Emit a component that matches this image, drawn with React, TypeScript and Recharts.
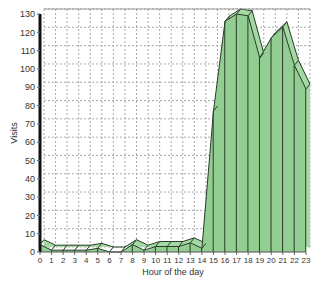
import {
  ComposedChart,
  Area,
  Bar,
  XAxis,
  YAxis,
  CartesianGrid,
  ReferenceLine,
} from "recharts";

const hours = [
  0, 1, 2, 3, 4, 5, 6, 7, 8, 9, 10, 11, 12, 13, 14, 15, 16, 17, 18, 19, 20, 21,
  22, 23,
];
const visits = [
  4, 1, 1, 1, 1, 2, 0, 0, 4, 1, 3, 3, 3, 5, 2, 77, 126, 130, 129, 106, 117,
  123, 102, 89,
];
const yTicks = [0, 10, 20, 30, 40, 50, 60, 70, 80, 90, 100, 110, 120, 130];

const data = hours.map((h, i) => ({ hour: h, visits: visits[i] }));

// depth of the fake 3D effect
const DX = 4;
const DY = -5;

const css = `
body { margin: 0; }
.recharts-cartesian-grid, .shift3d { transform: translate(${DX}px, ${DY}px); }
`;

const font = "'Liberation Sans', Arial, sans-serif";

const Connector = (props: any) => {
  const { cx, cy, index } = props;
  if (cx == null || cy == null) return <g key={`c-${index}`} />;
  return (
    <line
      key={`c-${index}`}
      x1={cx}
      y1={cy}
      x2={cx + DX}
      y2={cy + DY}
      stroke="#2b3b2b"
      strokeWidth={1}
    />
  );
};

export default function App() {
  return (
    <div style={{ fontFamily: font }}>
      <style>{css}</style>
      <ComposedChart
        width={320}
        height={284}
        data={data}
        margin={{ top: 14, right: 14, bottom: 0, left: 0 }}
      >
        <CartesianGrid stroke="#aaa" strokeDasharray="2 2" />
        <ReferenceLine y={130} stroke="#999" className="shift3d" />
        <XAxis
          dataKey="hour"
          type="number"
          domain={[0, 23]}
          ticks={hours}
          interval={0}
          height={32}
          tick={{ fontSize: 8, fill: "#333", fontFamily: font }}
          tickSize={3}
          tickLine={{ stroke: "#666" }}
          axisLine={{ stroke: "#555" }}
          label={{
            value: "Hour of the day",
            position: "insideBottom",
            offset: 9,
            style: { fontSize: 9, fill: "#333", fontFamily: font },
          }}
        />
        <YAxis
          domain={[0, 130]}
          ticks={yTicks}
          interval={0}
          width={40}
          tick={{ fontSize: 9, fill: "#333", fontFamily: font }}
          tickSize={3}
          tickLine={{ stroke: "#666" }}
          axisLine={{ stroke: "#111", strokeWidth: 3 }}
          label={{
            value: "Visits",
            angle: -90,
            position: "insideLeft",
            offset: 14,
            style: { fontSize: 9, fill: "#333", textAnchor: "middle", fontFamily: font },
          }}
        />
        <Area
          className="shift3d"
          type="linear"
          dataKey="visits"
          fill="#a3d9a3"
          fillOpacity={1}
          stroke="#2b3b2b"
          strokeWidth={1}
          dot={false}
          activeDot={false}
          isAnimationActive={false}
        />
        <Area
          type="linear"
          dataKey="visits"
          fill="#92cd92"
          fillOpacity={1}
          stroke="#2b3b2b"
          strokeWidth={1}
          dot={Connector}
          activeDot={false}
          isAnimationActive={false}
        />
        <Bar
          dataKey="visits"
          barSize={1}
          fill="#2b3b2b"
          isAnimationActive={false}
        />
      </ComposedChart>
    </div>
  );
}
